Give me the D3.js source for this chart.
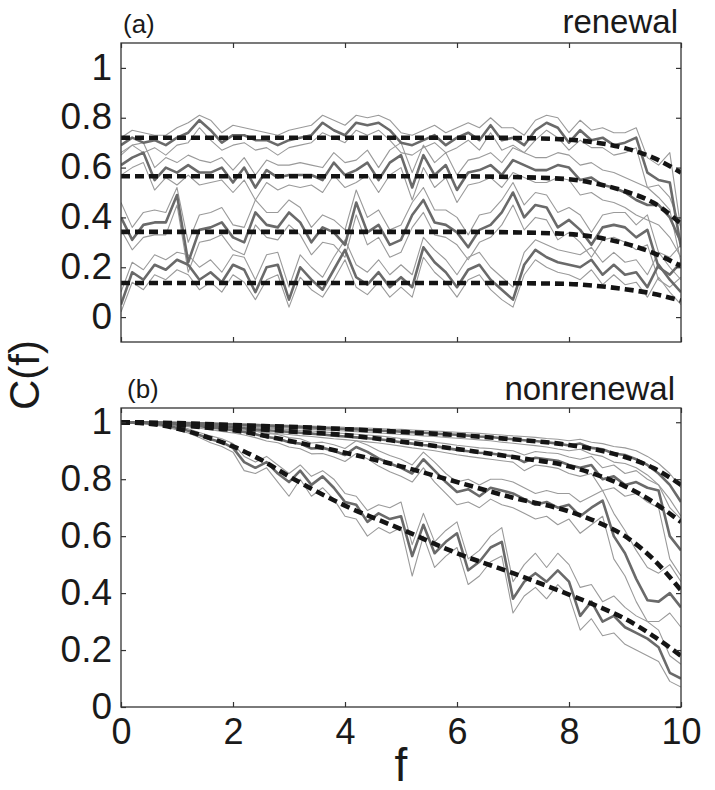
<!DOCTYPE html>
<html><head><meta charset="utf-8">
<script src="https://cdn.jsdelivr.net/npm/d3@7"></script>
<style>body{margin:0;background:#fff}svg{display:block}text{font-family:"Liberation Sans",Arial,sans-serif;fill:#1a1a1a}</style>
</head><body><svg id="c" width="715" height="790"></svg>
<script>
// ---------- data ----------
const fValues = [0,0.2,0.4,0.6,0.8,1,1.2,1.4,1.6,1.8,2,2.2,2.4,2.6,2.8,3,3.2,3.4,3.6,3.8,4,4.2,4.4,4.6,4.8,5,5.2,5.4,5.6,5.8,6,6.2,6.4,6.6,6.8,7,7.2,7.4,7.6,7.8,8,8.2,8.4,8.6,8.8,9,9.2,9.4,9.6,9.8,10];
const theoryF = [0,0.5,1,1.5,2,2.5,3,4,5,6,7,8,8.5,9,9.5,10];
const xTicks = [0,2,4,6,8,10];
const xTickLabels = ["0","2","4","6","8","10"];
const yTicks = [0,0.2,0.4,0.6,0.8,1];
const yTickLabels = ["0","0.2","0.4","0.6","0.8","1"];

// panel (a) renewal: theory (dashed)
const renTheory1 = [0.72,0.72,0.72,0.72,0.72,0.72,0.72,0.72,0.72,0.72,0.719,0.712,0.700,0.678,0.640,0.580];
const renTheory2 = [0.565,0.565,0.565,0.565,0.565,0.565,0.565,0.565,0.565,0.565,0.562,0.553,0.535,0.505,0.460,0.375];
const renTheory3 = [0.342,0.342,0.342,0.342,0.342,0.342,0.342,0.342,0.342,0.342,0.340,0.333,0.320,0.295,0.258,0.205];
const renTheory4 = [0.137,0.137,0.137,0.137,0.137,0.137,0.137,0.137,0.137,0.137,0.136,0.133,0.125,0.112,0.094,0.066];

// panel (a) simulations: mean (thick) and envelope (thin)
const ren1Mean = [0.69,0.72,0.70,0.71,0.69,0.72,0.74,0.79,0.75,0.70,0.73,0.73,0.71,0.71,0.69,0.71,0.72,0.73,0.78,0.75,0.73,0.78,0.77,0.78,0.75,0.70,0.69,0.71,0.73,0.69,0.72,0.74,0.71,0.77,0.71,0.72,0.69,0.75,0.78,0.76,0.70,0.75,0.71,0.72,0.69,0.70,0.72,0.58,0.55,0.54,0.28];
const ren1Hi = [0.72,0.75,0.74,0.73,0.73,0.76,0.78,0.81,0.79,0.74,0.77,0.76,0.75,0.74,0.73,0.75,0.76,0.77,0.81,0.79,0.77,0.81,0.80,0.81,0.79,0.74,0.73,0.75,0.77,0.74,0.76,0.78,0.76,0.80,0.76,0.76,0.73,0.79,0.81,0.80,0.74,0.79,0.75,0.76,0.74,0.74,0.76,0.64,0.61,0.66,0.35];
const ren1Lo = [0.65,0.69,0.66,0.68,0.65,0.69,0.70,0.76,0.71,0.67,0.69,0.70,0.67,0.68,0.65,0.68,0.69,0.70,0.74,0.72,0.70,0.75,0.73,0.75,0.71,0.66,0.65,0.68,0.70,0.66,0.68,0.71,0.67,0.74,0.67,0.69,0.66,0.71,0.75,0.72,0.67,0.71,0.68,0.68,0.65,0.66,0.68,0.52,0.48,0.43,0.22];

const ren2Mean = [0.61,0.64,0.66,0.55,0.60,0.58,0.61,0.58,0.58,0.60,0.54,0.60,0.52,0.59,0.56,0.57,0.57,0.57,0.55,0.62,0.57,0.59,0.62,0.55,0.62,0.65,0.52,0.65,0.57,0.61,0.51,0.58,0.59,0.61,0.57,0.63,0.61,0.59,0.59,0.61,0.60,0.55,0.56,0.53,0.52,0.50,0.47,0.45,0.45,0.40,0.30];
const ren2Hi = [0.66,0.69,0.70,0.60,0.64,0.62,0.65,0.63,0.62,0.64,0.59,0.64,0.57,0.63,0.61,0.61,0.62,0.61,0.60,0.66,0.62,0.63,0.67,0.60,0.67,0.70,0.58,0.69,0.62,0.66,0.57,0.63,0.64,0.66,0.62,0.68,0.66,0.64,0.64,0.66,0.65,0.61,0.62,0.59,0.58,0.56,0.54,0.52,0.53,0.48,0.36];
const ren2Lo = [0.57,0.60,0.62,0.51,0.56,0.53,0.57,0.53,0.54,0.55,0.50,0.55,0.47,0.54,0.51,0.53,0.52,0.53,0.50,0.57,0.52,0.54,0.57,0.50,0.57,0.60,0.47,0.60,0.52,0.56,0.46,0.53,0.54,0.56,0.52,0.58,0.56,0.54,0.54,0.56,0.55,0.49,0.50,0.47,0.46,0.44,0.41,0.39,0.37,0.32,0.24];

const ren3Mean = [0.40,0.31,0.37,0.38,0.38,0.49,0.22,0.35,0.36,0.38,0.32,0.30,0.42,0.37,0.36,0.42,0.38,0.30,0.36,0.34,0.29,0.46,0.34,0.37,0.29,0.31,0.41,0.47,0.38,0.37,0.34,0.28,0.35,0.37,0.42,0.50,0.40,0.45,0.44,0.36,0.39,0.35,0.29,0.36,0.37,0.36,0.32,0.35,0.20,0.17,0.22];
const ren3Hi = [0.46,0.36,0.42,0.43,0.42,0.52,0.30,0.41,0.42,0.44,0.37,0.36,0.47,0.42,0.42,0.47,0.44,0.36,0.41,0.39,0.35,0.51,0.40,0.43,0.35,0.37,0.46,0.52,0.43,0.43,0.40,0.33,0.41,0.42,0.47,0.54,0.45,0.50,0.49,0.42,0.44,0.41,0.34,0.41,0.42,0.42,0.37,0.41,0.26,0.24,0.29];
const ren3Lo = [0.35,0.27,0.32,0.33,0.33,0.45,0.18,0.30,0.31,0.33,0.27,0.25,0.37,0.32,0.31,0.37,0.33,0.25,0.30,0.29,0.24,0.41,0.29,0.32,0.24,0.26,0.36,0.42,0.33,0.32,0.29,0.23,0.30,0.32,0.37,0.45,0.35,0.40,0.39,0.31,0.34,0.30,0.24,0.31,0.32,0.30,0.27,0.29,0.15,0.12,0.16];

const ren4Mean = [0.05,0.18,0.15,0.21,0.19,0.23,0.21,0.15,0.18,0.14,0.21,0.19,0.10,0.20,0.21,0.07,0.20,0.15,0.11,0.19,0.27,0.16,0.13,0.18,0.12,0.16,0.12,0.28,0.22,0.18,0.12,0.19,0.21,0.15,0.11,0.07,0.21,0.27,0.24,0.22,0.21,0.20,0.23,0.17,0.21,0.17,0.18,0.12,0.21,0.15,0.10];
const ren4Hi = [0.10,0.22,0.19,0.25,0.23,0.26,0.25,0.20,0.23,0.18,0.25,0.24,0.15,0.25,0.26,0.12,0.25,0.20,0.16,0.24,0.31,0.21,0.18,0.23,0.17,0.21,0.17,0.32,0.27,0.23,0.17,0.24,0.26,0.20,0.16,0.12,0.26,0.31,0.29,0.27,0.26,0.25,0.28,0.22,0.26,0.22,0.23,0.17,0.26,0.20,0.15];
const ren4Lo = [0.02,0.14,0.11,0.17,0.15,0.19,0.17,0.11,0.14,0.10,0.17,0.14,0.07,0.15,0.17,0.04,0.16,0.11,0.08,0.15,0.23,0.12,0.09,0.14,0.08,0.12,0.08,0.24,0.18,0.14,0.08,0.15,0.17,0.11,0.07,0.04,0.17,0.23,0.20,0.18,0.17,0.15,0.19,0.13,0.17,0.13,0.14,0.08,0.16,0.10,0.05];

// panel (b) nonrenewal: theory (dashed)
const nonTheory1 = [1.0,0.999,0.997,0.994,0.990,0.987,0.984,0.976,0.966,0.955,0.940,0.920,0.903,0.878,0.840,0.780];
const nonTheory2 = [1.0,0.998,0.993,0.987,0.980,0.975,0.968,0.955,0.932,0.906,0.878,0.845,0.815,0.775,0.720,0.650];
const nonTheory3 = [1.0,0.997,0.990,0.982,0.972,0.955,0.935,0.893,0.845,0.790,0.735,0.687,0.650,0.600,0.520,0.410];
const nonTheory4 = [1.0,0.995,0.978,0.950,0.915,0.868,0.810,0.707,0.625,0.540,0.470,0.395,0.355,0.310,0.250,0.180];

// panel (b) simulations
const non1Mean = [1.0,1.0,1.0,0.999,0.999,0.998,0.997,0.996,0.995,0.994,0.992,0.991,0.990,0.988,0.987,0.985,0.983,0.982,0.980,0.978,0.976,0.975,0.973,0.971,0.969,0.967,0.965,0.963,0.960,0.958,0.956,0.953,0.950,0.948,0.944,0.940,0.937,0.934,0.930,0.925,0.918,0.925,0.910,0.905,0.890,0.885,0.870,0.850,0.820,0.780,0.720];
const non1Hi = [1.0,1.0,1.0,1.0,1.0,0.999,0.999,0.998,0.997,0.996,0.995,0.994,0.993,0.992,0.991,0.989,0.988,0.987,0.985,0.984,0.982,0.981,0.980,0.978,0.976,0.975,0.973,0.971,0.969,0.967,0.965,0.963,0.961,0.958,0.955,0.952,0.950,0.947,0.943,0.940,0.935,0.940,0.930,0.925,0.915,0.910,0.900,0.880,0.855,0.820,0.770];
const non1Lo = [1.0,0.999,0.999,0.998,0.997,0.996,0.995,0.993,0.992,0.990,0.988,0.987,0.985,0.983,0.981,0.979,0.977,0.975,0.973,0.971,0.969,0.967,0.964,0.962,0.960,0.957,0.955,0.952,0.950,0.947,0.944,0.941,0.938,0.935,0.930,0.926,0.922,0.918,0.913,0.906,0.900,0.905,0.888,0.880,0.860,0.855,0.840,0.815,0.780,0.730,0.670];

const non2Mean = [1.0,1.0,0.999,0.998,0.997,0.995,0.993,0.991,0.988,0.985,0.982,0.979,0.975,0.972,0.969,0.966,0.963,0.960,0.957,0.953,0.950,0.947,0.944,0.940,0.936,0.930,0.925,0.920,0.916,0.910,0.903,0.898,0.893,0.890,0.885,0.880,0.860,0.875,0.870,0.865,0.850,0.840,0.850,0.800,0.810,0.780,0.790,0.770,0.760,0.600,0.550];
const non2Hi = [1.0,1.0,1.0,0.999,0.998,0.997,0.996,0.994,0.992,0.990,0.988,0.985,0.982,0.979,0.977,0.974,0.971,0.969,0.966,0.963,0.960,0.958,0.955,0.952,0.948,0.943,0.939,0.934,0.930,0.925,0.919,0.915,0.910,0.908,0.903,0.900,0.885,0.897,0.893,0.890,0.878,0.870,0.880,0.840,0.850,0.820,0.830,0.800,0.780,0.700,0.660];
const non2Lo = [0.999,0.998,0.997,0.996,0.994,0.992,0.990,0.987,0.983,0.980,0.976,0.972,0.968,0.964,0.960,0.957,0.953,0.950,0.946,0.942,0.939,0.935,0.931,0.927,0.922,0.916,0.910,0.905,0.900,0.893,0.886,0.880,0.875,0.870,0.865,0.860,0.830,0.850,0.845,0.838,0.820,0.810,0.820,0.760,0.770,0.740,0.750,0.720,0.700,0.520,0.460];

const non3Mean = [1.0,1.0,0.999,0.998,0.996,0.993,0.990,0.986,0.982,0.977,0.972,0.966,0.958,0.948,0.943,0.930,0.925,0.908,0.910,0.900,0.885,0.913,0.896,0.873,0.855,0.840,0.820,0.870,0.830,0.790,0.755,0.765,0.740,0.770,0.760,0.750,0.730,0.710,0.720,0.700,0.710,0.670,0.700,0.725,0.600,0.540,0.450,0.375,0.370,0.400,0.350];
const non3Hi = [1.0,1.0,1.0,1.0,0.999,0.997,0.995,0.992,0.989,0.985,0.981,0.976,0.969,0.961,0.957,0.946,0.942,0.927,0.930,0.921,0.908,0.935,0.920,0.900,0.883,0.870,0.850,0.895,0.860,0.820,0.790,0.800,0.780,0.800,0.800,0.790,0.770,0.750,0.760,0.750,0.750,0.720,0.740,0.760,0.680,0.620,0.550,0.490,0.470,0.500,0.440];
const non3Lo = [0.999,0.998,0.997,0.995,0.992,0.988,0.984,0.979,0.974,0.968,0.962,0.955,0.946,0.934,0.928,0.913,0.907,0.889,0.890,0.878,0.862,0.890,0.872,0.846,0.826,0.810,0.790,0.840,0.790,0.750,0.710,0.720,0.700,0.730,0.710,0.700,0.680,0.660,0.670,0.640,0.660,0.610,0.640,0.670,0.520,0.460,0.370,0.300,0.300,0.330,0.280];

const non4Mean = [1.0,1.0,0.998,0.995,0.990,0.980,0.970,0.955,0.940,0.930,0.910,0.860,0.840,0.860,0.820,0.790,0.830,0.780,0.810,0.770,0.720,0.710,0.650,0.680,0.660,0.670,0.530,0.640,0.540,0.580,0.610,0.480,0.510,0.560,0.580,0.380,0.440,0.470,0.440,0.480,0.440,0.320,0.370,0.300,0.320,0.280,0.260,0.240,0.210,0.120,0.100];
const non4Hi = [1.0,1.0,1.0,0.998,0.994,0.986,0.977,0.964,0.952,0.942,0.925,0.880,0.860,0.880,0.850,0.820,0.850,0.810,0.830,0.800,0.750,0.740,0.690,0.710,0.700,0.720,0.570,0.680,0.580,0.620,0.650,0.520,0.550,0.600,0.630,0.440,0.500,0.540,0.490,0.540,0.500,0.420,0.430,0.370,0.390,0.350,0.320,0.300,0.270,0.180,0.150];
const non4Lo = [0.998,0.996,0.994,0.990,0.984,0.973,0.962,0.946,0.928,0.915,0.895,0.830,0.820,0.840,0.790,0.740,0.800,0.740,0.770,0.730,0.670,0.660,0.600,0.630,0.610,0.630,0.460,0.600,0.490,0.530,0.560,0.430,0.460,0.510,0.530,0.330,0.390,0.420,0.380,0.430,0.390,0.270,0.310,0.250,0.260,0.220,0.200,0.180,0.160,0.090,0.070];

const panels = [
  {label:"(a)", title:"renewal", domain:[-0.1,1.1], top:43, bottom:342, xLabels:false,
   theory:[renTheory1,renTheory2,renTheory3,renTheory4],
   thin:[ren1Hi,ren1Lo,ren2Hi,ren2Lo,ren3Hi,ren3Lo,ren4Hi,ren4Lo],
   thick:[ren1Mean,ren2Mean,ren3Mean,ren4Mean]},
  {label:"(b)", title:"nonrenewal", domain:[0,1.05], top:408, bottom:707, xLabels:true,
   theory:[nonTheory1,nonTheory2,nonTheory3,nonTheory4],
   thin:[non1Hi,non1Lo,non2Hi,non2Lo,non3Hi,non3Lo,non4Hi,non4Lo],
   thick:[non1Mean,non2Mean,non3Mean,non4Mean]}
];

// ---------- drawing ----------
const svg = d3.select("#c");
const left = 121, right = 681;
const x = d3.scaleLinear().domain([0,10]).range([left,right]);
const TICK = 5;

panels.forEach((p, pi) => {
  const y = d3.scaleLinear().domain(p.domain).range([p.bottom, p.top]);
  const g = svg.append("g");
  const clipId = "clip" + pi;
  svg.append("clipPath").attr("id", clipId).append("rect")
    .attr("x", left).attr("y", p.top).attr("width", right-left).attr("height", p.bottom-p.top);
  const plot = g.append("g").attr("clip-path", `url(#${clipId})`);

  const simLine = d3.line().x((d,i)=>x(fValues[i])).y(d=>y(d));
  const thLine = d3.line().x((d,i)=>x(theoryF[i])).y(d=>y(d)).curve(d3.curveMonotoneX);

  plot.selectAll(".thin").data(p.thin).join("path")
    .attr("d", simLine).attr("fill","none").attr("stroke","#9a9a9a").attr("stroke-width",1.1)
    .attr("stroke-linejoin","round");
  plot.selectAll(".thick").data(p.thick).join("path")
    .attr("d", simLine).attr("fill","none").attr("stroke","#6a6a6a").attr("stroke-width",2.6)
    .attr("stroke-linejoin","round");
  plot.selectAll(".theory").data(p.theory).join("path")
    .attr("d", thLine).attr("fill","none").attr("stroke","#141414").attr("stroke-width",4.6)
    .attr("stroke-dasharray","9,5");

  // axes (ticks inward on all four sides)
  const yAx = d3.axisLeft(y).tickValues(yTicks).tickFormat((d,i)=>yTickLabels[i]).tickSize(-TICK).tickPadding(9);
  const gy = g.append("g").attr("transform",`translate(${left},0)`).call(yAx);
  gy.selectAll("text").attr("font-size",37).attr("dy","0.3em").style("font-family",'"Liberation Sans",Arial,sans-serif').attr("fill","#1a1a1a");
  g.append("g").attr("transform",`translate(${right},0)`)
    .call(d3.axisRight(y).tickValues(yTicks).tickSize(-TICK).tickFormat(""));
  const xAx = d3.axisBottom(x).tickValues(xTicks).tickSize(-TICK).tickPadding(11)
    .tickFormat(p.xLabels ? (d,i)=>xTickLabels[i] : "");
  const gx = g.append("g").attr("transform",`translate(0,${p.bottom})`).call(xAx);
  gx.selectAll("text").attr("font-size",36).style("font-family",'"Liberation Sans",Arial,sans-serif').attr("fill","#1a1a1a");
  g.append("g").attr("transform",`translate(0,${p.top})`)
    .call(d3.axisTop(x).tickValues(xTicks).tickSize(-TICK).tickFormat(""));
  g.selectAll(".domain").remove();
  g.selectAll(".tick line").attr("stroke","#333").attr("stroke-width",1.2);

  g.append("rect").attr("x",left).attr("y",p.top).attr("width",right-left).attr("height",p.bottom-p.top)
    .attr("fill","none").attr("stroke","#333").attr("stroke-width",1.3);

  g.append("text").attr("x", pi===0?123:127).attr("y", pi===0?33:398).attr("font-size",26).text(p.label);
  g.append("text").attr("x", pi===0?678:675).attr("y", pi===0?33:400).attr("text-anchor","end")
    .attr("font-size",33).text(p.title);
});

svg.append("text").attr("x",401).attr("y",781).attr("text-anchor","middle").attr("font-size",46).text("f");
svg.append("text").attr("transform","translate(39,375) rotate(-90)").attr("text-anchor","middle")
  .attr("font-size",42).text("C(f)");
</script></body></html>
